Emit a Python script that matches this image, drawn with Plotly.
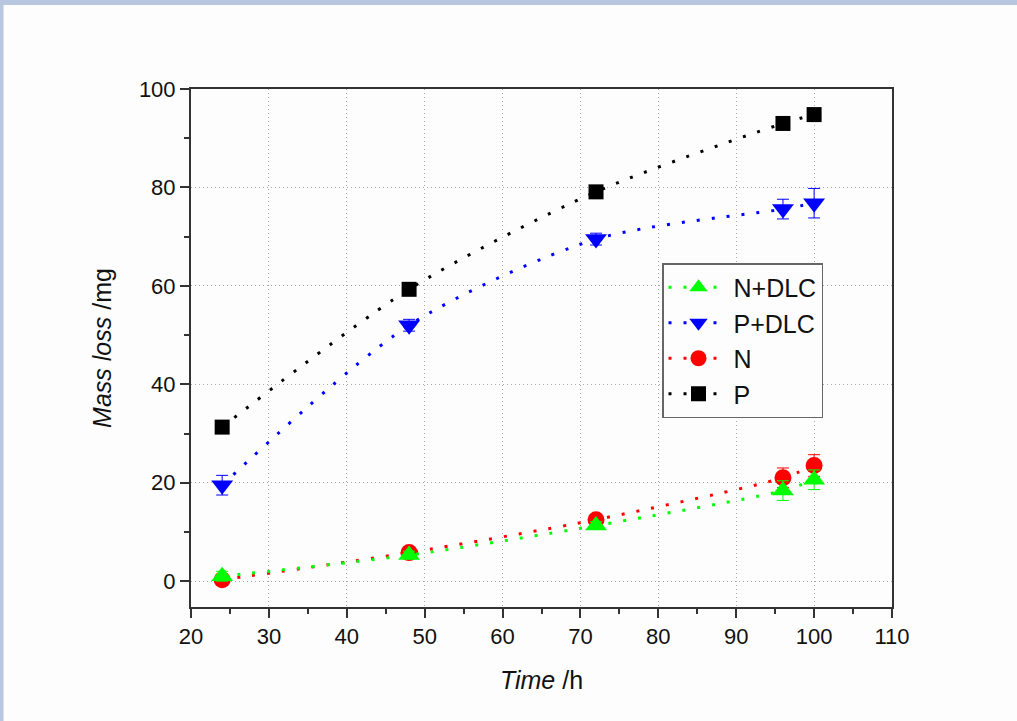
import plotly.graph_objects as go

# Immersion time (h)
time_h = [24, 48, 72, 96, 100]

# Mass loss (mg) and error bar half-widths for each sample
p_loss = [31.3, 59.3, 79.1, 93.0, 94.8]
p_err = [0.8, 0.8, 0.8, 0.8, 1.2]

n_loss = [0.3, 5.8, 12.5, 21.0, 23.5]
n_err = [0.8, 0.8, 0.8, 2.0, 2.2]

pdlc_loss = [19.5, 52.0, 69.5, 75.6, 76.8]
pdlc_err = [2.0, 1.2, 1.2, 2.0, 3.0]

ndlc_loss = [1.0, 5.3, 11.3, 18.4, 20.6]
ndlc_err = [1.0, 0.8, 0.8, 2.0, 2.0]

FONT = "Liberation Sans, Arial, sans-serif"

series = [
    # name, y, err, colour, symbol, marker size
    ("P", p_loss, p_err, "#000000", "square", 15),
    ("N", n_loss, n_err, "#ff0000", "circle", 17),
    ("P+DLC", pdlc_loss, pdlc_err, "#0000ff", "triangle-down", 19),
    ("N+DLC", ndlc_loss, ndlc_err, "#00ff00", "triangle-up", 19),
]

fig = go.Figure()
for name, y, err, color, symbol, size in series:
    fig.add_trace(go.Scatter(
        x=time_h, y=y, name=name, mode="lines+markers",
        line=dict(color=color, width=3, dash="3px,12px", shape="spline", smoothing=0.8),
        marker=dict(symbol=symbol, size=size, color=color, line=dict(width=0)),
        error_y=dict(type="data", array=err, visible=True, color=color,
                     thickness=1, width=6),
    ))

axis_common = dict(
    showline=True, linewidth=2, linecolor="#333333", mirror=True,
    ticks="outside", tickwidth=2, tickcolor="#333333", ticklen=9,
    showgrid=True, gridcolor="#a8a8a8", griddash="1px,3px", gridwidth=1,
    zeroline=False,
    tickfont=dict(family=FONT, size=22, color="#111111"),
    minor=dict(ticks="outside", ticklen=5, tickwidth=2, tickcolor="#333333", showgrid=False),
)

fig.update_xaxes(
    range=[20, 110], tick0=20, dtick=10,
    title=dict(text="<i>Time</i> /h", font=dict(family=FONT, size=25, color="#111111"), standoff=23),
    **axis_common,
)
fig.update_xaxes(minor_dtick=5)

fig.update_yaxes(
    range=[-5.25, 100], tick0=0, dtick=20,
    title=dict(text="<i>Mass loss</i> /mg", font=dict(family=FONT, size=25, color="#111111"), standoff=20),
    **axis_common,
)
fig.update_yaxes(minor_dtick=10)

W, H = 1017, 721
ml, mr, mt, mb = 191, 125, 89, 114
pw, ph = W - ml - mr, H - mt - mb

# light blue page frame along the top and left edges
frame_col = "#b8c6e0"
fig.add_shape(type="rect", xref="paper", yref="paper", layer="below",
              x0=-ml / pw, x1=(W - ml) / pw, y0=1 + (mt - 5) / ph, y1=1 + mt / ph,
              fillcolor=frame_col, line=dict(width=0))
fig.add_shape(type="rect", xref="paper", yref="paper", layer="below",
              x0=-ml / pw, x1=(3.5 - ml) / pw, y0=-mb / ph, y1=1 + mt / ph,
              fillcolor=frame_col, line=dict(width=0))

fig.update_layout(
    width=W, height=H,
    margin=dict(l=ml, r=mr, t=mt, b=mb),
    paper_bgcolor="#fdfdfd", plot_bgcolor="#fdfdfd",
    font=dict(family=FONT, color="#111111"),
    showlegend=True,
    legend=dict(
        x=(662 - ml) / pw, y=(H - mb - 263) / ph, xanchor="left", yanchor="top",
        traceorder="reversed",
        bgcolor="#fdfdfd", bordercolor="#666666", borderwidth=1.5,
        font=dict(family=FONT, size=25, color="#111111"),
        itemwidth=60, tracegroupgap=0,
    ),
)

fig.write_html("out.html")
